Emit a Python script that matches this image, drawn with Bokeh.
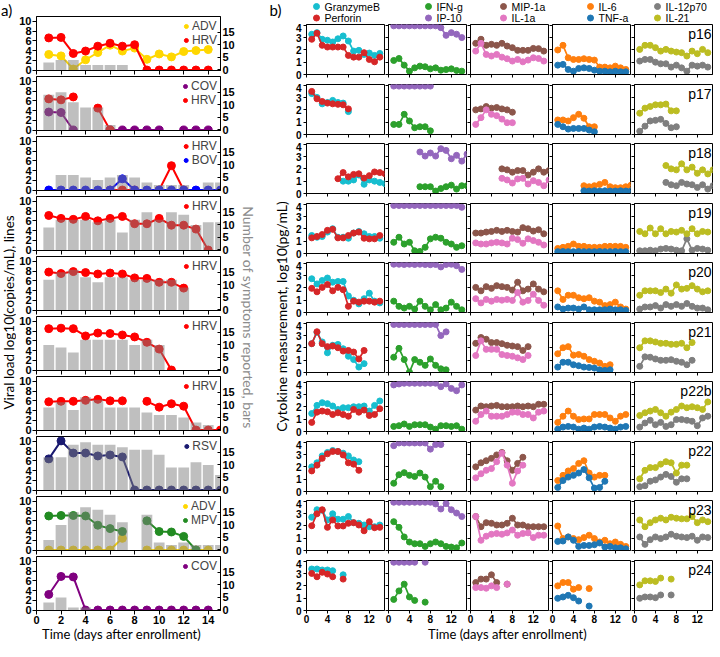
import math
from bokeh.plotting import figure
from bokeh.models import Range1d, LinearAxis, FixedTicker, Legend, LegendItem, Label
from bokeh.layouts import row, column
from bokeh.embed import file_html
from bokeh.resources import INLINE
from bokeh.core.properties import value

nan = float("nan")

# ---------------- Panel a data ----------------
DAYS_A = list(range(1, 16))
A_XTICKS = [0, 2, 4, 6, 8, 10, 12, 14]
A_YTICKS = [0, 2, 4, 6, 8, 10]
A_SYM_TICKS = [0, 5, 10, 15]

A_VIRUSES = [["ADV", "HRV"], ["COV", "HRV"], ["HRV", "BOV"], ["HRV"], ["HRV"],
             ["HRV"], ["HRV"], ["RSV"], ["ADV", "MPV"], ["COV"]]

A1_ADV = [3.2, 2.9, 0.2, 2.1, 3.6, 5.1, 3.9, 4.5, 2.2, 3.3, 2.7, 3.8, 4.0, 4.2, nan]
A1_HRV = [6.6, 6.7, 3.4, 3.9, 4.9, 5.5, 4.9, 5.2, 0, 0, 0, 0, 0, 0, nan]
A1_SYM = [3, 4, 4, 2, 2, 2, 2, 0, 0, 0, 0, 0, 0, 0, 0]

A2_COV = [3.7, 3.6, 0, nan, nan, 0, 0, 0, 0, 0, nan, 0, 0, 0, nan]
A2_HRV = [6.4, 6.2, 6.8, nan, 4.5, 0, nan, nan, nan, nan, nan, nan, nan, nan, nan]
A2_SYM = [14, 15, 11, 9, 9, 2, 0, 0, 0, 0, 0, 0, 0, 0, 0]

A3_HRV = [nan, nan, nan, nan, nan, 0, 0, 0, nan, 0, 5.0, 0, nan, nan, nan]
A3_BOV = [0, 0, 0, 0, 0, 0, 2.3, 0, 0, 0, 0, 0, 0, 0, 0]
A3_SYM = [0, 6, 6, 5, 4, 5, 6, 5, 3, 2, 2, 2, 0, 3, 3]

A4_HRV = [7.1, 6.5, 6.3, 6.9, 6.0, 6.5, 6.9, 5.4, 5.4, 6.5, 5.1, 5.1, 4.3, 0, nan]
A4_SYM = [9, 12, 12, 12, 11, 12, 7, 12, 15, 12, 15, 14, 10, 11, 11]

A5_HRV = [7.8, 7.5, 7.9, 7.7, 7.4, 7.6, 7.4, 6.6, 6.5, 5.7, 5.7, 4.5, nan, nan, nan]
A5_SYM = [12, 15, 16, 13, 11, 13, 13, 12, 12, 12, 12, 9, 0, 0, 0]

A6_HRV = [8.5, 8.6, 8.5, 7.0, 7.6, 7.5, 7.2, 6.8, 5.7, 4.3, 0, nan, nan, nan, nan]
A6_SYM = [10, 9, 7, 12, 12, 12, 12, 10, 12, 10, 0, 0, 0, 0, 0]

A7_HRV = [5.8, 5.9, 5.9, 6.1, 6.3, 6.0, 6.0, nan, 5.9, 4.7, 5.4, 4.9, 0, 0, 0]
A7_SYM = [9, 11, 8, 13, 12, 9, 9, 9, 7, 6, 6, 5, 3, 2, 0]

A8_RSV = [6.4, 10.1, 7.6, 7.6, 7.0, 7.2, 6.8, 0, 0, 0, 0, 0, 0, 0, 0]
A8_SYM = [13, 13, 18, 19, 18, 18, 17, 16, 16, 14, 9, 9, 11, 10, 6]

A9_ADV = [0, 0, 0, 0, 0, 0, 2.4, nan, 0, 0, 0, 0, 0, 0, nan]
A9_MPV = [7.0, 7.1, 7.1, 7.0, 5.1, 4.4, 3.8, nan, 6.0, 3.8, 3.7, 2.8, 0, nan, nan]
A9_SYM = [4, 10, 15, 17, 16, 14, 11, 0, 14, 3, 2, 3, 2, 2, 2]

A10_COV = [3.2, 6.9, 6.8, 0, 0, 0, 0, 0, 0, 0, 0, 0, 0, 0, nan]
A10_SYM = [3, 5, 1, 1, 0, 0, 0, 0, 0, 0, 0, 0, 0, 0, 0]

A_SERIES = [[A1_ADV, A1_HRV], [A2_COV, A2_HRV], [A3_HRV, A3_BOV], [A4_HRV], [A5_HRV],
            [A6_HRV], [A7_HRV], [A8_RSV], [A9_ADV, A9_MPV], [A10_COV]]
A_SYMPTOMS = [A1_SYM, A2_SYM, A3_SYM, A4_SYM, A5_SYM, A6_SYM, A7_SYM, A8_SYM, A9_SYM, A10_SYM]

VIRUS_COLORS = {"ADV": "#ffd700", "HRV": "#ff0000", "COV": "#800080",
                "BOV": "#0000ff", "RSV": "#191970", "MPV": "#228b22"}

# ---------------- Panel b data ----------------
DAYS_B = list(range(1, 16))
B_XTICKS = [0, 4, 8, 12]
B_YTICKS = [0, 1, 2, 3, 4]
PATIENTS = ["p16", "p17", "p18", "p19", "p20", "p21", "p22b", "p22", "p23", "p24"]
N5 = [nan] * 5
N6 = [nan] * 6
N7 = [nan] * 7
N1 = [nan]

GRANZYMEB = [
    [3.27, 3.4, 2.86, 2.78, 2.64, 2.9, 3.13, 2.72, 1.9, 1.96, 1.63, 1.74, 1.55, 1.71] + N1,
    [3.32, 3.01, 2.49, 2.6, 2.77, 2.6, 2.55, 1.86] + N7,
    N6 + [1.0, 1.0, 1.1, 1.5, 0.75, 1.1, 1.0, 0.9, 0.8],
    [1.46, 1.32, 1.38, 1.74, 2.01, 1.32, 1.32, 1.24, 1.66, 1.79, 1.6, 1.38, 1.38, 1.24] + N1,
    [2.74, 2.32, 2.6, 2.8, 2.46, 2.52, 2.52, 1.34, 1.0, 0.7, 1.12, 1.57, 0.92, 0.78] + N1,
    [2.34, 3.26, 2.48, 1.6, 2.21, 2.28, 1.93, 1.32, 1.05, 0.44, 0.72] + [nan] * 4,
    [1.46, 2.12, 2.34, 2.26, 2.07, 1.79, 1.93, 1.93, 2.01, 2.01, 2.07, 1.66, 2.12, 2.48] + N1,
    [2.0, 2.33, 2.89, 3.17, 3.33, 3.25, 3.11, 2.89, 2.56, 2.42] + N5,
    [2.7, 3.31, 3.26, 2.48, 2.98, 2.54, 2.54, 2.76, 2.26, 2.21, 2.07, 1.93, 1.93, 2.07] + N1,
    [3.37, 3.37, 3.29, 3.29, 3.23, nan, 2.9] + [nan] * 8,
]
PERFORIN = [
    [2.86, 3.35, 2.37, 2.23, 2.23, 2.23, 2.23, 1.55, 1.41, 1.41, 1.77, 1.22, 1.03, 1.41] + N1,
    [3.5, 2.9, 2.68, 2.55, 2.49, 2.45, 2.41, 2.08] + N7,
    N5 + [1.2, 1.7, 1.35, 1.55, 1.6, 1.25, 1.45, 1.75, 1.7, 1.6],
    [1.27, 1.38, 1.54, 1.88, 1.96, 1.27, 1.27, 1.46, 1.66, 1.74, 1.24, 1.19, 1.19, 1.46] + N1,
    [1.96, 1.68, 2.04, 2.27, 1.76, 2.04, 1.85, 0.5, 0.92, 0.84, 0.92, 0.92, 0.84, 0.92] + N1,
    [2.34, 3.31, 2.34, 2.1, 2.15, 2.01, 1.74, 1.79, 1.66, 1.1, 1.79] + [nan] * 4,
    [0.74, 1.57, 1.66, 1.6, 1.38, 1.52, 1.38, 1.24, 1.79, 1.57, 1.74, 1.3, 1.38, 1.85] + N1,
    [1.67, 2.14, 2.69, 3.06, 3.25, 3.25, 2.97, 2.33, 2.22, 1.72] + N5,
    [2.01, 2.98, 3.31, 1.88, 2.48, 1.99, 1.99, 2.21, 2.26, 2.07, 1.6, 2.34, 1.85, 1.88] + N1,
    [3.01, 2.74, 3.1, 2.96, 2.74, nan, 2.55] + [nan] * 8,
]
IFN_G = [
    [1.14, 1.3, 0.76, 0.27, 0.54, 0.68, 0.63, 0.46, 0.54, 0.35, 0.4, 0.46, 0.33, 0.27] + N1,
    [0.82, 0.82, 1.64, 1.1, 0.55, 0.63, 0.63, 0.3] + N7,
    N5 + [0.55, 0.55, 0.55, 0.2, 0.4, 0.55, 0.68, 0.36, 0.63, 0.63],
    [0.91, 1.32, 0.77, 0.91, 0.22, 0.17, 0.5, 1.19, 1.32, 1.24, 0.91, 0.77, 0.5, 0.63] + N1,
    [0.92, 0.5, 0.36, 0.5, 0.28, 0.92, 0.5, 0.22, 0.64, 0.22, 0.36, 0.84, 0.5, 0.22] + N1,
    [1.24, 1.96, 1.05, 0.03, 1.05, 0.83, 0.58, 1.1, 0.58, 0.3, 0.22] + [nan] * 4,
    [0.41, 0.47, 0.61, 0.41, 0.55, 0.55, 0.55, 0.36, 0.19, 0.47, 0.47, 0.41, 0.47, 0.19] + N1,
    [0.67, 1.36, 1.53, 1.31, 1.22, 1.5, 1.17, 0.39, 0.83, 0.39] + N5,
    [2.34, 1.88, 1.1, 0.69, 0.55, 0.55, 0.33, 0.55, 0.69, 0.55, 0.33, 0.28, 0.22, 0.61] + N1,
    [0.9, 1.59, 2.14, 1.1, 0.82, nan, 0.68] + [nan] * 8,
]
IP_10 = [
    [3.95] * 9 + [3.8, 3.18, 3.4, 3.27, 3.0] + N1,
    [3.93] * 8 + N7,
    N5 + [3.37, 3.04, 3.29, 3.04, 3.64, 3.5, 2.82, 3.1, 2.63, 3.2],
    [3.9] * 13 + [3.75] + N1,
    [3.92, 3.92, 3.9, 3.92, 3.9, 3.92, 3.9, 3.88, 3.9, 3.7, 3.9, 3.92, 3.8, 3.5] + N1,
    [3.9] * 9 + [3.0, 3.3] + [nan] * 4,
    [3.78, 3.86, 3.92, 3.92, 3.92, 3.92, 3.92, 3.92, 3.92, 3.64, 3.86, 3.5, 3.31, 3.78] + N1,
    [3.72, 3.94, 3.94, 3.94, 3.94, 3.94, 3.94, 3.44, 3.81, 3.81] + N5,
    [3.92] * 8 + [3.78, 3.37, 3.81, 3.31, 3.04, 2.76] + N1,
    [3.92, 3.92, 3.92, 3.92, 3.92, nan, 3.92] + [nan] * 8,
]
MIP_1A = [
    [2.53, 2.86, 2.37, 2.45, 2.37, 2.53, 2.31, 2.18, 1.96, 1.96, 1.96, 2.12, 2.1, 1.9] + N1,
    [2.0, 2.08, 2.27, 2.14, 2.19, 2.08, 2.0, 1.81] + N7,
    N5 + [2.0, 1.92, 1.73, 1.86, 1.86, 1.5, 1.73, 2.0, 1.73, 1.86],
    [1.66, 1.66, 1.74, 1.79, 1.88, 1.79, 1.88, 1.79, 1.74, 2.1, 2.01, 1.82, 1.93, 1.6] + N1,
    [2.04, 1.76, 2.1, 1.96, 2.18, 2.1, 2.04, 1.82, 2.46, 1.76, 1.9, 2.32, 1.9, 1.68] + N1,
    [2.37, 2.84, 2.7, 2.43, 2.43, 2.34, 2.21, 2.15, 2.1, 1.79, 2.1] + [nan] * 4,
    [1.74, 2.07, 2.01, 2.07, 2.12, 2.01, 2.01, 2.01, 2.07, 2.01, 2.07, 2.01, 2.21, 2.21] + N1,
    [2.0, 2.33, 2.5, 2.69, 2.97, 3.17, 2.5, 1.72, 2.28, 2.78] + N5,
    [2.76, 1.93, 2.26, 2.21, 2.07, 2.07, 2.21, 2.62, 2.07, 2.07, 1.93, 1.93, 1.93, 1.93] + N1,
    [2.27, 2.55, 2.55, 2.9, 2.27, nan, 2.14] + [nan] * 8,
]
IL_1A = [
    [1.9, 2.53, 1.63, 1.5, 1.63, 1.41, 1.28, 1.09, 1.22, 1.03, 1.17, 1.36, 1.3, 1.09] + N1,
    [0.82, 1.37, 2.0, 1.64, 1.53, 1.25, 0.96, 0.96] + N7,
    N5 + [1.23, 1.1, 0.85, 1.18, 1.23, 0.77, 1.04, 0.9, 0.63, 1.1],
    [0.86, 0.77, 0.77, 0.86, 0.91, 0.86, 0.77, 1.24, 1.13, 0.83, 1.19, 1.05, 0.91, 0.69] + N1,
    [1.12, 0.78, 1.06, 0.92, 1.06, 1.0, 1.06, 0.98, 1.62, 0.84, 0.98, 1.48, 0.98, 0.59] + N1,
    [1.38, 2.57, 1.88, 1.88, 1.88, 1.46, 1.38, 1.32, 1.19, 1.05, 1.38] + [nan] * 4,
    [0.83, 1.38, 1.66, 1.24, 1.24, 1.24, 1.38, 1.57, 1.57, 1.38, 1.38, 1.1, 1.57, 1.66] + N1,
    [1.11, 1.44, 1.72, 1.86, 2.42, 3.11, 2.14, 0.67, 1.67, 2.14] + N5,
    [2.76, 0.83, 1.16, 1.32, 1.38, 1.32, 1.43, 1.66, 1.24, 1.38, 1.43, 1.05, 1.24, 1.24] + N1,
    [1.86, 1.86, 1.81, 2.0, 1.86, nan, 2.14] + [nan] * 8,
]
IL_6 = [
    [1.99, 2.37, 1.36, 1.22, 1.22, 1.28, 1.22, 1.17, 0.6, 0.6, 0.54, 0.68, 0.54, 0.41] + N1,
    [1.18, 1.18, 1.1, 1.37, 1.64, 1.32, 0.63, 0.63] + N7,
    N5 + [0.63, 0.55, 0.63, 0.74, 0.9, 0.55, 0.47, 0.47, 0.55, 0.68],
    [0.41, 0.5, 0.58, 0.77, 0.58, 0.58, 0.5, 0.5, 0.5, 0.58, 0.58, 0.58, 0.58, 0.5] + N1,
    [1.76, 1.06, 1.4, 1.4, 1.2, 1.12, 1.2, 0.92, 0.84, 0.56, 0.64, 0.84, 0.45, 0.28] + N1,
    [1.52, 2.01, 2.1, 1.41, 1.46, 1.32, 1.05, 0.91, 0.77, 0.5, 0.63] + [nan] * 4,
    [0.74, 1.24, 1.66, 1.24, 0.97, 1.02, 1.02, 1.38, 1.38, 1.38, 1.1, 0.83, 1.24, 1.38] + N1,
    [0.89, 1.31, 1.67, 1.86, 2.28, 2.5, 1.5, 1.17, 1.31, 1.31] + N5,
    [1.99, 0.97, 1.1, 0.97, 0.88, 1.05, 1.24, 0.97, 0.69, 0.83, 0.55, 0.69, 0.5, 0.33] + N1,
    [2.0, 2.27, 2.27, 1.73, 1.86, nan, 1.78] + [nan] * 8,
]
TNF_A = [
    [0.76, 0.82, 0.41, 0.27, 0.49, 0.54, 0.49, 0.35, 0.27, 0.27, 0.22, 0.27, 0.22, 0.22] + N1,
    [0.82, 0.63, 0.44, 0.49, 0.49, 0.49, 0.36, 0.22] + N7,
    N5 + [0.22, 0.2, 0.22, 0.2, 0.22, 0.2, 0.2, 0.22, 0.2, 0.22],
    [0.15, 0.16, 0.15, 0.15, 0.16, 0.15, 0.15, 0.15, 0.16, 0.15, 0.15, 0.16, 0.15, 0.15] + N1,
    [0.45, 0.28, 0.36, 0.36, 0.28, 0.45, 0.22, 0.22, 0.22, 0.22, 0.28, 0.22, 0.22, 0.17] + N1,
    [0.44, 0.83, 0.83, 0.63, 0.55, 0.44, 0.41, 0.36, 0.22, 0.17, 0.22] + [nan] * 4,
    [0.19, 0.36, 0.41, 0.36, 0.19, 0.28, 0.19, 0.36, 0.41, 0.36, 0.28, 0.19, 0.36, 0.41] + N1,
    [0.33, 0.89, 1.17, 1.31, 1.5, 1.78, 1.11, 0.28, 0.33, 0.83] + N5,
    [0.74, 0.77, 1.1, 0.83, 0.33, 0.41, 0.41, 0.47, 0.61, 0.28, 0.33, 0.22, 0.22, 0.14] + N1,
    [0.99, 1.1, 1.23, 1.04, 0.77, nan, 0.36] + [nan] * 8,
]
IL_12P70 = [
    [1.09, 1.22, 1.22, 1.0, 0.87, 0.87, 0.6, 0.76, 0.54, 0.27, 0.76, 0.68, 0.76, 0.6] + N1,
    [0.27, 0.68, 1.1, 1.15, 1.23, 0.9, 0.55, 0.63] + N7,
    N5 + [0.9, 0.71, 0.63, 0.9, 0.77, 0.71, 0.49, 0.71, 0.36, 0.63],
    [0.22, 0.22, 0.27, 0.22, 0.36, 0.41, 0.36, 0.27, 0.22, 1.19, 0.27, 0.41, 0.36, 0.27] + N1,
    [0.28, 0.45, 0.45, 0.56, 0.36, 0.64, 0.5, 0.64, 0.5, 0.73, 0.5, 0.36, 0.36, 0.22] + N1,
    [0.5, 1.27, 1.24, 1.1, 0.99, 0.99, 1.04, 0.91, 0.83, 0.63, 0.99] + [nan] * 4,
    [0.36, 0.69, 0.91, 0.55, 0.74, 0.41, 0.55, 0.97, 0.97, 0.91, 0.83, 0.47, 1.1, 1.24] + N1,
    [0.39, 0.47, 0.83, 0.94, 1.17, 1.39, 1.22, 0.75, 1.03, 1.03] + N5,
    [1.1, 0.5, 0.88, 1.1, 0.97, 1.1, 1.32, 1.16, 1.1, 1.05, 1.16, 0.83, 1.1, 1.05] + N1,
    [0.99, 1.1, 1.1, 1.04, 1.26, nan, 1.26] + [nan] * 8,
]
IL_21 = [
    [2.04, 2.37, 2.37, 2.18, 1.9, 2.04, 1.9, 1.82, 1.77, 1.5, 1.9, 1.69, 2.04, 1.77] + N1,
    [1.73, 2.14, 2.27, 2.41, 2.41, 2.47, 1.92, 1.92] + N7,
    N5 + [2.27, 2.0, 1.92, 2.41, 1.92, 2.14, 1.64, 1.92, 1.59, 1.92],
    [1.79, 1.6, 2.07, 1.6, 2.01, 1.6, 1.79, 1.74, 1.88, 1.6, 2.01, 1.6, 1.79, 1.74] + N1,
    [1.4, 1.76, 1.76, 1.76, 1.62, 1.9, 1.57, 2.24, 1.9, 1.96, 2.18, 1.9, 1.68, 1.76] + N1,
    [2.01, 2.57, 2.57, 2.48, 2.37, 2.37, 2.29, 2.29, 2.37, 2.01, 2.43] + [nan] * 4,
    [1.3, 1.52, 1.66, 1.79, 1.52, 1.24, 1.57, 1.79, 2.07, 1.93, 2.01, 1.93, 1.79, 2.4] + N1,
    [1.03, 1.72, 1.94, 1.94, 2.22, 2.42, 2.33, 1.5, 2.14, 2.14] + N5,
    [2.48, 1.93, 2.26, 2.48, 2.62, 2.48, 2.7, 2.62, 2.57, 2.57, 2.76, 2.26, 2.48, 2.34] + N1,
    [2.08, 2.41, 2.41, 2.36, 2.63, nan, 2.55] + [nan] * 8,
]

B_PAIRS = [("GranzymeB", "Perforin"), ("IFN-g", "IP-10"), ("MIP-1a", "IL-1a"),
           ("IL-6", "TNF-a"), ("IL-12p70", "IL-21")]
B_DATA = {"GranzymeB": GRANZYMEB, "Perforin": PERFORIN, "IFN-g": IFN_G, "IP-10": IP_10,
          "MIP-1a": MIP_1A, "IL-1a": IL_1A, "IL-6": IL_6, "TNF-a": TNF_A,
          "IL-12p70": IL_12P70, "IL-21": IL_21}
B_COLORS = {"GranzymeB": "#17becf", "Perforin": "#d62728", "IFN-g": "#2ca02c",
            "IP-10": "#9467bd", "MIP-1a": "#8c564b", "IL-1a": "#e377c2",
            "IL-6": "#ff7f0e", "TNF-a": "#1f77b4", "IL-12p70": "#7f7f7f", "IL-21": "#bcbd22"}

# ---------------- styling / layout constants ----------------
TICK_FONT = "Liberation Sans"
TITLE_FONT = "Lato"
A_FRAME_W, A_FRAME_H = 184, 54
B_FRAME_W, B_FRAME_H = 78, 50
B_BOTTOMS = [9, 8, 9, 8, 9, 8, 9, 8, 9, 16]
COL_H = 626
L_W = 16


def style_axis(ax, labels=True, size="11px", out=4, inn=0, standoff=2):
    ax.major_tick_out = out
    ax.major_tick_in = inn
    ax.minor_tick_out = 0
    ax.minor_tick_in = 0
    ax.axis_line_color = "black"
    ax.major_tick_line_color = "black"
    if labels:
        ax.major_label_text_font = TICK_FONT
        ax.major_label_text_font_style = "bold"
        ax.major_label_text_font_size = size
        ax.major_label_text_color = "black"
        ax.major_label_standoff = standoff
    else:
        ax.major_label_text_color = None
        ax.major_label_text_alpha = 0
        ax.major_label_standoff = 0


def make_a(idx):
    first = idx == 0
    last = idx == 9
    p = figure(frame_width=A_FRAME_W, frame_height=A_FRAME_H,
               x_range=Range1d(0, 15), y_range=Range1d(-0.1, 11.0),
               min_border_left=18, min_border_right=18,
               min_border_top=16 if first else 1, min_border_bottom=16 if last else 5,
               output_backend="svg", toolbar_location=None)
    p.extra_y_ranges = {"sym": Range1d(-0.2, 21.3)}
    p.grid.visible = False
    p.outline_line_color = "black"
    p.outline_line_alpha = 1
    if last:
        p.xaxis.ticker = FixedTicker(ticks=A_XTICKS)
        style_axis(p.xaxis[0], labels=True, standoff=1)
    else:
        p.xaxis.visible = False
        bx = LinearAxis(ticker=FixedTicker(ticks=A_XTICKS), major_label_text_font_size="0px")
        style_axis(bx, labels=False)
        p.add_layout(bx, "below")
    p.yaxis.ticker = FixedTicker(ticks=A_YTICKS)
    style_axis(p.yaxis[0], labels=True, standoff=1)
    right = LinearAxis(y_range_name="sym", ticker=FixedTicker(ticks=A_SYM_TICKS))
    style_axis(right, labels=True, out=0, inn=3, standoff=2)
    p.add_layout(right, "right")

    items = []
    for name, vals in zip(A_VIRUSES[idx], A_SERIES[idx]):
        c = VIRUS_COLORS[name]
        p.line(DAYS_A, vals, line_color=c, line_width=2)
        r = p.scatter(DAYS_A, vals, size=8, fill_color=c, line_color=c)
        items.append(LegendItem(label=value(name), renderers=[r]))
    p.vbar(x=DAYS_A, top=A_SYMPTOMS[idx], bottom=0, width=0.88, y_range_name="sym",
           fill_color="#808080", fill_alpha=0.5, line_color=None)
    leg = Legend(items=items, location="top_right", background_fill_alpha=0,
                 border_line_alpha=0, padding=1, margin=2, spacing=0,
                 glyph_width=10, glyph_height=10, label_height=10, label_standoff=1,
                 label_text_font_size="12px", label_text_font=TICK_FONT,
                 label_text_line_height=0.9)
    p.add_layout(leg)
    return p


def make_b(r, c):
    s1, s2 = B_PAIRS[c]
    p = figure(frame_width=B_FRAME_W, frame_height=B_FRAME_H,
               x_range=Range1d(0, 14.9), y_range=Range1d(0, 4.06),
               min_border_left=16 if c == 0 else 3, min_border_right=1,
               min_border_top=1, min_border_bottom=B_BOTTOMS[r],
               output_backend="svg", toolbar_location=None)
    p.grid.visible = False
    p.outline_line_color = "black"
    p.xaxis.ticker = FixedTicker(ticks=B_XTICKS)
    p.yaxis.ticker = FixedTicker(ticks=B_YTICKS)
    style_axis(p.xaxis[0], labels=(r == 9), size="10px", out=3, standoff=1)
    style_axis(p.yaxis[0], labels=(c == 0), size="10px", out=3, standoff=2)
    for name in (s1, s2):
        vals = B_DATA[name][r]
        col = B_COLORS[name]
        p.line(DAYS_B, vals, line_color=col, line_width=1.7)
        p.scatter(DAYS_B, vals, size=6, fill_color=col, line_color=col)
    if c == 4:
        p.add_layout(Label(x=14.9, y=4.06, x_offset=-1, y_offset=-1, text=PATIENTS[r],
                           text_align="right", text_baseline="top",
                           text_font=TICK_FONT, text_font_size="14px", text_color="black"))
    return p


def text_fig(w, h):
    p = figure(width=w, height=h, x_range=Range1d(0, w), y_range=Range1d(0, h),
               x_axis_type=None, y_axis_type=None, toolbar_location=None,
               output_backend="svg", min_border=0, outline_line_color=None)
    p.grid.visible = False
    return p


# left strip: "a)" + left title
L = text_fig(L_W, COL_H)
L.text(x=[0.5], y=[COL_H], text=["a)"], text_align="left", text_baseline="top",
       text_font=value(TITLE_FONT), text_font_size="15px", text_color="black")
L.text(x=[L_W / 2], y=[314], text=["Viral load log10(copies/mL), lines"], angle=math.pi / 2,
       text_align="center", text_baseline="middle", text_line_height=1.0,
       text_font=value(TITLE_FONT), text_font_size="13.5px", text_color="black")

colA = column([make_a(i) for i in range(10)], spacing=0)

# middle strip: right-axis title of a, "b)", y title of b
M = text_fig(52, COL_H)
M.text(x=[31], y=[COL_H], text=["b)"], text_align="left", text_baseline="top",
       text_font=value(TITLE_FONT), text_font_size="15px", text_color="black")
M.text(x=[10], y=[309], text=["Number of symptoms reported, bars"], angle=-math.pi / 2,
       text_align="center", text_baseline="middle",
       text_font=value(TITLE_FONT), text_font_size="14px", text_color="#8c8c8c")
M.text(x=[43], y=[310], text=["Cytokine measurement, log10(pg/mL)"], angle=math.pi / 2,
       text_align="center", text_baseline="middle",
       text_font=value(TITLE_FONT), text_font_size="14px", text_color="black")

# legend header for b
LEG_X = [26, 138, 213, 300, 367]
LEG_Y = [17, 5.5]
H = text_fig(423, 23)
for ci, pair in enumerate(B_PAIRS):
    for ri, name in enumerate(pair):
        H.scatter(x=[LEG_X[ci]], y=[LEG_Y[ri]], size=6, fill_color=B_COLORS[name],
                  line_color=B_COLORS[name])
        H.text(x=[LEG_X[ci] + 8], y=[LEG_Y[ri]], text=[name], text_align="left",
               text_baseline="middle", text_font=value(TICK_FONT),
               text_font_size="10.5px", text_color="black")

rowsB = [row([make_b(r, c) for c in range(5)], spacing=0) for r in range(10)]
colB = column([H] + rowsB, spacing=0)

F = text_fig(711, 15)
F.text(x=[121, 507], y=[7.5, 7.5], text=["Time (days after enrollment)"] * 2,
       text_align="center", text_baseline="middle",
       text_font=value(TITLE_FONT), text_font_size="13px", text_color="black")

layout = column(row([L, colA, M, colB], spacing=0), F, spacing=0)

html = file_html(layout, INLINE, title="chart")
open("out.html", "w").write(html)
